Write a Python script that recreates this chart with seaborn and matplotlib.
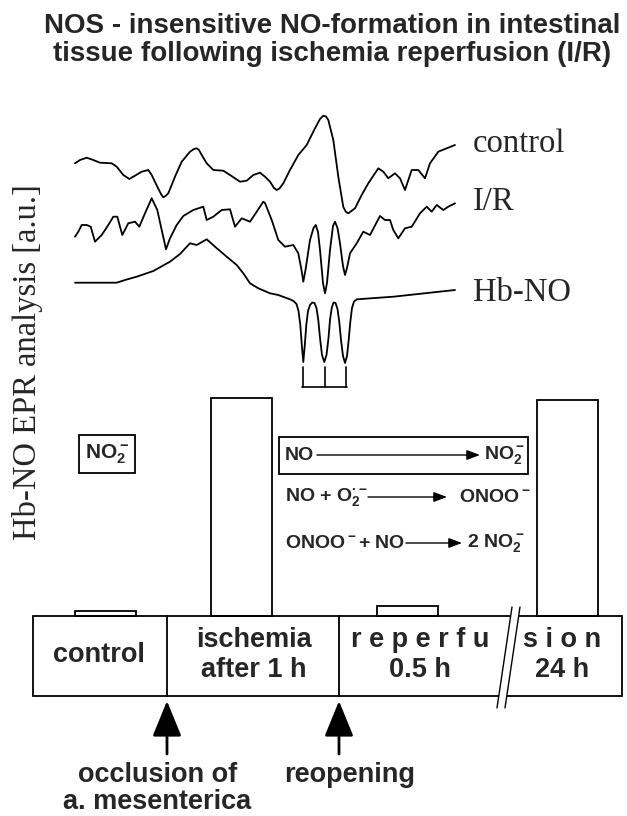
import matplotlib
matplotlib.use("Agg")

import pandas as pd
import seaborn as sns
import matplotlib.pyplot as plt
from matplotlib.patches import Rectangle, Polygon


# =========================
# 1. Data
# =========================

# EPR spectra: field position / signal (a.u., drawing units)
control_x = [75, 80, 86.7, 93.3, 100, 111.7, 116.7, 123.3, 129.3, 135, 141.7, 148.3,
             151.7, 157.3, 161, 163.3, 165.5, 168.3, 175, 181.7, 190, 194, 196.7, 199,
             201.7, 206.7, 213.3, 223.3, 230, 240, 246.7, 253.3, 260, 265, 270, 274,
             276.7, 279.5, 283.3, 290, 298.3, 306.7, 315, 320, 323.3, 326, 328.3, 333.3,
             338.3, 343.3, 346, 348.3, 355, 361.7, 368.3, 378.3, 383.3, 388.3, 395, 400,
             405, 411.7, 418.3, 425, 430, 438.3, 446.7, 455]
control_y = [163.3, 160, 157.7, 160, 162.7, 163.3, 166.7, 175, 179, 175.7, 171.7, 170,
             175, 186.7, 194, 197.3, 196, 193.3, 176.7, 161.7, 151.7, 149, 148.3, 150,
             155, 163.3, 170, 170.7, 175, 181.7, 180.7, 175, 172.7, 176.7, 181.7, 188,
             190, 188.5, 183.3, 170, 155, 145, 128.3, 119, 115.7, 116.5, 120, 140,
             176.7, 207, 212, 213.3, 208.3, 195, 183.3, 168.3, 171.7, 178.3, 173.3, 178.3,
             190, 170, 170, 178.3, 163.3, 151.7, 148.3, 145]

ir_x = [75, 78.3, 81.7, 86.7, 90.7, 95, 101.7, 108.3, 113.3, 117.3, 122.3, 128.3, 135,
        139.3, 145, 151.7, 157.3, 161.7, 166, 170, 176.7, 183.3, 193.3, 203.3, 206.7,
        213.3, 221.7, 230, 235, 241.7, 250, 256.7, 263.3, 265, 271.7, 278.3, 285, 293.3,
        298.3, 301.5, 303.3, 305.5, 310, 313.5, 315.7, 318, 320, 323, 325, 327, 330,
        333, 335, 337.5, 340, 343, 345, 347, 350, 356.7, 363.3, 370, 380, 385, 390,
        393.3, 398.3, 405, 411.7, 420, 426.7, 431.7, 436.7, 443.3, 448.3, 455]
ir_y = [236.7, 231.7, 225, 225, 226.7, 241.7, 235, 225, 216.7, 216.7, 235, 223.3, 221.7,
        226.7, 213.3, 198.3, 210, 230, 249.3, 238.3, 225, 216, 210, 206.7, 220,
        216.7, 210, 209.3, 226.7, 218.3, 221.7, 211.7, 201.7, 203, 220, 240, 246.7, 245,
        253.3, 270, 281.7, 270, 240, 228, 225, 232, 250, 283, 293.3, 283, 250,
        226, 221.7, 228, 243.3, 266, 275, 268, 253.3, 243.3, 231.7, 235, 216, 220, 220,
        230, 238.3, 228.3, 226.7, 213.3, 206.7, 211.7, 205, 210, 206.7, 203.3]

hbno_x = [75, 116.7, 125, 136.7, 153.3, 170, 180, 190, 196.7, 206.7, 215, 226.7, 236.7,
          243.3, 250, 258.3, 270, 278.3, 291.7, 294, 296.5, 298.5, 300.3, 301.8, 303.3,
          304.8, 306.3, 308, 310, 312.3, 314.5, 316.5, 318.3, 320, 322, 324.3, 326.5,
          328.5, 330, 331.7, 333.5, 335.5, 337.5, 339.3, 341, 343, 345, 347, 348.7,
          350.3, 352, 354, 357, 393.3, 455]
hbno_y = [282.7, 282.7, 280, 276.7, 271, 261.7, 254, 243.3, 245, 239.3, 246.7, 256.7, 265,
          273.3, 283.3, 288.3, 293.3, 295, 300, 301.5, 304, 311, 325, 345, 362,
          345, 325, 311, 305, 302.5, 303, 308, 320, 338, 355, 362, 355,
          338, 320, 308, 302.5, 303, 309, 322, 340, 356, 363, 356, 340,
          322, 308, 301.5, 299.3, 296.7, 290]

trace_names = ["control", "I/R", "Hb-NO"]
trace_label_y = [152, 210, 301]

# Hb-NO triplet line positions
triplet_x = [303, 325, 346]

# NO-related signal per phase (a.u.)
phases = ["control", "ischemia\nafter 1 h", "r e p e r f u\n0.5 h", "s i o n\n24 h"]
no_level = [2.5, 100, 4.6, 99.1]

title = "NOS - insensitive NO-formation in intestinal\ntissue following ischemia reperfusion (I/R)"
ylabel = "Hb-NO EPR analysis [a.u.]"


# =========================
# 2. Style
# =========================

sns.set_theme(style="white")
plt.rcParams["font.family"] = ["Liberation Sans", "DejaVu Sans"]
plt.rcParams["mathtext.fontset"] = "custom"
plt.rcParams["mathtext.rm"] = "Liberation Sans:bold"
plt.rcParams["mathtext.it"] = "Liberation Sans:bold"
plt.rcParams["mathtext.bf"] = "Liberation Sans:bold"

serif = ["Liberation Serif", "DejaVu Serif"]
lw = 1.3

fig = plt.figure(figsize=(6.27, 8.16), dpi=100)
ax = fig.add_axes([0, 0, 1, 1])
ax.set_xlim(0, 627)
ax.set_ylim(816, 0)
ax.axis("off")


# =========================
# 3. Title and y label
# =========================

ax.text(332, 40, title, ha="center", va="center", fontsize=20,
        fontweight="bold", linespacing=1.08)
ax.text(28, 362, ylabel, rotation=90, ha="center", va="center",
        fontsize=23.5, family=serif)


# =========================
# 4. EPR spectra
# =========================

spectra = pd.concat([
    pd.DataFrame({"field": control_x, "signal": control_y, "trace": "control"}),
    pd.DataFrame({"field": ir_x, "signal": ir_y, "trace": "I/R"}),
    pd.DataFrame({"field": hbno_x, "signal": hbno_y, "trace": "Hb-NO"}),
])

for name in trace_names:
    sub = spectra[spectra["trace"] == name]
    sns.lineplot(data=sub, x="field", y="signal", sort=False, estimator=None,
                 color="black", linewidth=1.3, ax=ax)

for name, yb in zip(trace_names, trace_label_y):
    ax.text(473, yb, name, ha="left", va="baseline", fontsize=23.5, family=serif)

for tx in triplet_x:
    ax.plot([tx, tx], [367, 387], color="black", lw=1.2)
ax.plot([triplet_x[0] - 1, triplet_x[-1] + 1], [387, 387], color="black", lw=1.2)


# =========================
# 5. Bars and time line
# =========================

base = 616
px_per_au = 2.18
bar_centers = [105, 241, 407, 567]
ax.bar(bar_centers, [-v * px_per_au for v in no_level], bottom=base, width=61,
       fill=False, edgecolor="black", linewidth=lw)

seg_edges = [33, 167, 339, 505, 622]
ax.add_patch(Rectangle((seg_edges[0], base), seg_edges[-1] - seg_edges[0], 80,
                       fill=False, edgecolor="black", lw=lw))
for xe in seg_edges[1:3]:
    ax.plot([xe, xe], [base, base + 80], color="black", lw=lw)

# break marks
ax.add_patch(Polygon([(512, 607), (520, 607), (505, 708), (497, 708)],
                     closed=True, facecolor="white", edgecolor="none", zorder=3))
ax.plot([512, 497], [607, 708], color="black", lw=1.0, zorder=4)
ax.plot([520, 505], [607, 708], color="black", lw=1.0, zorder=4)

label_x = [99, 254, 420, 562]
for lx, lab in zip(label_x, phases):
    ax.text(lx, 655, lab, ha="center", va="center", fontsize=19.5,
            fontweight="bold", multialignment="center")

for xa in seg_edges[1:3]:
    ax.annotate("", xy=(xa, 701), xytext=(xa, 754),
                arrowprops=dict(arrowstyle="-|>,head_length=1.1,head_width=0.45",
                                color="black", lw=2, mutation_scale=20,
                                shrinkA=0, shrinkB=0))

ax.text(158, 782, "occlusion of", ha="center", va="baseline",
        fontsize=19.5, fontweight="bold")
ax.text(157, 809, "a. mesenterica", ha="center", va="baseline",
        fontsize=19.5, fontweight="bold")
ax.text(350, 782, "reopening", ha="center", va="baseline", fontsize=19.5,
        fontweight="bold")


# =========================
# 6. Chemistry boxes
# =========================

ax.add_patch(Rectangle((79, 435), 56, 38, fill=False, edgecolor="black", lw=lw))
ax.text(107, 454, r"NO$_2^-$", ha="center", va="center", fontsize=15,
        fontweight="bold")

ax.add_patch(Rectangle((279, 437), 249, 37, fill=False, edgecolor="black", lw=lw))

reactions = [
    (455, r"NO", 317, 480, r"NO$_2^-$", 484),
    (497, r"NO + O$_2^{\bullet -}$", 368, 447, r"ONOO$^-$", 459),
    (543, r"ONOO$^-$+ NO", 406, 462, r"2 NO$_2^-$", 467),
]
for yy, left, a0, a1, right, rx in reactions:
    ax.text(285, yy, left, ha="left", va="center", fontsize=14, fontweight="bold")
    ax.annotate("", xy=(a1, yy), xytext=(a0, yy),
                arrowprops=dict(arrowstyle="-|>,head_length=0.8,head_width=0.3",
                                color="black", lw=1, mutation_scale=10,
                                shrinkA=0, shrinkB=0))
    ax.text(rx, yy, right, ha="left", va="center", fontsize=14, fontweight="bold")

fig.savefig("out.png", dpi=100)
